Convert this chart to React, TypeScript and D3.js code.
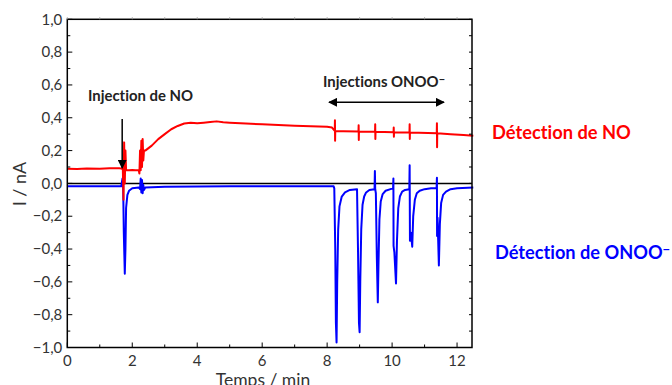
import React from "react";
import * as d3 from "d3";

const W = 672;
const H = 385;

const xTicks = [0, 2, 4, 6, 8, 10, 12];
const yTicks = [1.0, 0.8, 0.6, 0.4, 0.2, 0.0, -0.2, -0.4, -0.6, -0.8, -1.0];

// Red trace: NO detection (time / min, current / nA)
const noTrace: [number, number][] = [
  [0, 0.09], [0.3, 0.088], [0.6, 0.091], [1.0, 0.09], [1.3, 0.092], [1.6, 0.092],
  [1.68, 0.09], [1.71, 0.085], [1.73, -0.1], [1.75, 0.25], [1.77, 0.0], [1.79, 0.2],
  [1.81, 0.08], [1.9, 0.08], [2.0, 0.082], [2.1, 0.08], [2.2, 0.08],
  [2.22, 0.06], [2.24, 0.2], [2.26, 0.08], [2.28, 0.26], [2.3, 0.1], [2.32, 0.27],
  [2.34, 0.14], [2.36, 0.2], [2.4, 0.2], [2.6, 0.23], [2.8, 0.27], [3.0, 0.3],
  [3.2, 0.33], [3.4, 0.35], [3.6, 0.365], [3.8, 0.37], [4.0, 0.366], [4.2, 0.37],
  [4.4, 0.374], [4.6, 0.378], [4.8, 0.372], [5.0, 0.37], [5.5, 0.365], [6.0, 0.36],
  [6.5, 0.356], [7.0, 0.352], [7.5, 0.348], [8.0, 0.345], [8.15, 0.34],
  [8.235, 0.32], [8.24, 0.385], [8.245, 0.26], [8.25, 0.32], [8.5, 0.318],
  [8.965, 0.316], [8.97, 0.355], [8.975, 0.265], [8.98, 0.316],
  [9.475, 0.315], [9.48, 0.36], [9.485, 0.27], [9.49, 0.315],
  [10.045, 0.312], [10.05, 0.34], [10.055, 0.285], [10.06, 0.312],
  [10.535, 0.31], [10.54, 0.36], [10.545, 0.27], [10.55, 0.31],
  [11.375, 0.305], [11.38, 0.366], [11.385, 0.22], [11.39, 0.305],
  [11.8, 0.3], [12.2, 0.295], [12.5, 0.29],
];

// Blue trace: ONOO- detection (time / min, current / nA)
const onooTrace: [number, number][] = [
  [0, -0.018], [1.0, -0.018], [1.66, -0.018], [1.7, 0.03], [1.72, -0.02],
  [1.74, -0.3], [1.77, -0.55], [1.79, -0.4], [1.81, -0.15], [1.85, -0.07],
  [1.9, -0.045], [2.0, -0.03], [2.2, -0.025], [2.24, -0.035], [2.26, 0.03],
  [2.28, -0.055], [2.3, 0.02], [2.32, -0.06], [2.34, -0.01], [2.36, -0.04],
  [2.4, -0.025], [3.0, -0.02], [5.0, -0.018], [8.2, -0.018],
  [8.22, -0.03], [8.25, -0.4], [8.27, -0.85], [8.29, -0.97], [8.31, -0.6],
  [8.34, -0.28], [8.38, -0.14], [8.45, -0.08], [8.55, -0.055], [8.7, -0.04],
  [8.92, -0.035], [8.95, -0.4], [8.98, -0.85], [9.0, -0.907], [9.02, -0.6],
  [9.05, -0.28], [9.09, -0.13], [9.14, -0.08], [9.2, -0.055], [9.3, -0.04],
  [9.46, -0.035], [9.47, 0.075], [9.48, -0.035], [9.5, -0.06], [9.53, -0.45],
  [9.56, -0.725], [9.58, -0.5], [9.61, -0.22], [9.65, -0.11], [9.71, -0.065],
  [9.8, -0.045], [9.95, -0.035], [10.03, -0.03], [10.04, 0.03], [10.045, -0.38],
  [10.07, -0.42], [10.12, -0.61], [10.15, -0.35], [10.19, -0.15], [10.24, -0.08],
  [10.31, -0.05], [10.4, -0.04], [10.53, -0.035], [10.54, 0.11], [10.55, -0.35],
  [10.58, -0.3], [10.62, -0.386], [10.65, -0.2], [10.7, -0.1], [10.76, -0.06],
  [10.85, -0.045], [11.0, -0.035], [11.2, -0.03], [11.37, -0.03], [11.38, 0.035],
  [11.385, -0.32], [11.4, -0.21], [11.44, -0.5], [11.47, -0.25], [11.51, -0.12],
  [11.57, -0.07], [11.66, -0.05], [11.8, -0.035], [12.0, -0.03], [12.5, -0.025],
];

const fmt = (v: number) => {
  const s = Math.abs(v).toFixed(1).replace(".", ",");
  return v < -1e-9 ? "\u2212" + s : s;
};

export default function App() {
  const left = 67.3;
  const right = 472;
  const top = 19.3;
  const bottom = 347.5;
  const x = d3.scaleLinear().domain([0, 12.46]).range([left, right]);
  const y = d3.scaleLinear().domain([-1, 1]).range([bottom, top]);
  const line = d3
    .line<[number, number]>()
    .x((d) => x(d[0]))
    .y((d) => y(d[1]));

  const yMinor = d3.range(-10, 11).map((i) => i / 10);
  const xMinor = d3.range(0, 13);
  const font = "Lato, 'Open Sans', sans-serif";
  const tickColor = "#333";
  const noLig = { fontVariantLigatures: "none" as const };

  return (
    <svg width={W} height={H} style={{ position: "absolute", left: 0, top: 0 }}>
      <rect x={0} y={0} width={W} height={H} fill="#fff" />
      <defs>
        <marker id="ah" viewBox="0 0 10 10" refX="9" refY="5" markerWidth="6" markerHeight="6" orient="auto-start-reverse">
          <path d="M0,0 L10,5 L0,10 z" fill="#000" />
        </marker>
      </defs>

      {/* zero line */}
      <line x1={left} x2={right} y1={y(0)} y2={y(0)} stroke="#000" strokeWidth={1.5} />

      {/* traces */}
      <path d={line(onooTrace) || ""} fill="none" stroke="#0000ff" strokeWidth={2} strokeLinejoin="round" />
      <path d={line(noTrace) || ""} fill="none" stroke="#ff0000" strokeWidth={2} strokeLinejoin="round" />

      {/* frame */}
      <rect x={left} y={top} width={right - left} height={bottom - top} fill="none" stroke="#000" strokeWidth={1.5} />

      {/* left ticks */}
      {yMinor.map((v, i) => (
        <line key={"yl" + i} x1={left} x2={left + (i % 2 === 0 ? 5 : 3)} y1={y(v)} y2={y(v)} stroke="#000" strokeWidth={1} />
      ))}
      {/* right ticks */}
      {yMinor.map((v, i) => (
        <line key={"yr" + i} x1={right} x2={right - 3} y1={y(v)} y2={y(v)} stroke="#000" strokeWidth={1} />
      ))}
      {/* bottom ticks */}
      {xMinor.map((v, i) => (
        <line key={"xb" + i} x1={x(v)} x2={x(v)} y1={bottom} y2={bottom - (i % 2 === 0 ? 5 : 3)} stroke="#000" strokeWidth={1} />
      ))}
      {/* top ticks */}
      {xMinor.map((v, i) => (
        <line key={"xt" + i} x1={x(v)} x2={x(v)} y1={top} y2={top - 2} stroke="#999" strokeWidth={1} />
      ))}

      {/* tick labels */}
      {yTicks.map((v) => (
        <text key={"yt" + v} x={left - 5} y={y(v)} dy="0.35em" textAnchor="end" fontFamily={font} fontSize={15} fill={tickColor}>
          {fmt(v)}
        </text>
      ))}
      {xTicks.map((v) => (
        <text key={"xt" + v} x={x(v)} y={365.5} textAnchor="middle" fontFamily={font} fontSize={15} fill={tickColor}>
          {String(v)}
        </text>
      ))}

      {/* axis titles */}
      <text transform={`translate(26,184) rotate(-90)`} textAnchor="middle" fontFamily={font} fontSize={18} fill={tickColor}>
        I / nA
      </text>
      <text x={263} y={385.5} textAnchor="middle" fontFamily={font} fontSize={17.5} fill={tickColor}>
        Temps / min
      </text>

      {/* annotations */}
      <text x={88} y={101} fontFamily={font} fontSize={14.9} fontWeight="bold" fill="#222" style={noLig}>
        Injection de NO
      </text>
      <line x1={x(1.69)} x2={x(1.69)} y1={119} y2={168} stroke="#000" strokeWidth={1.5} markerEnd="url(#ah)" />

      <text x={323} y={87} fontFamily={font} fontSize={14.9} fontWeight="bold" fill="#222" style={noLig}>
        Injections ONOO<tspan dy="-4" fontSize={11}>−</tspan>
      </text>
      <line x1={329} x2={444} y1={102.3} y2={102.3} stroke="#000" strokeWidth={1.5} markerStart="url(#ah)" markerEnd="url(#ah)" />

      <text x={492} y={138.5} fontFamily={font} fontSize={18.3} fontWeight="bold" fill="#ff0000" style={noLig}>
        Détection de NO
      </text>
      <text x={495} y={259} fontFamily={font} fontSize={18.2} fontWeight="bold" fill="#0000ff" style={noLig}>
        Détection de ONOO<tspan dy="-5" fontSize={13}>−</tspan>
      </text>
    </svg>
  );
}
